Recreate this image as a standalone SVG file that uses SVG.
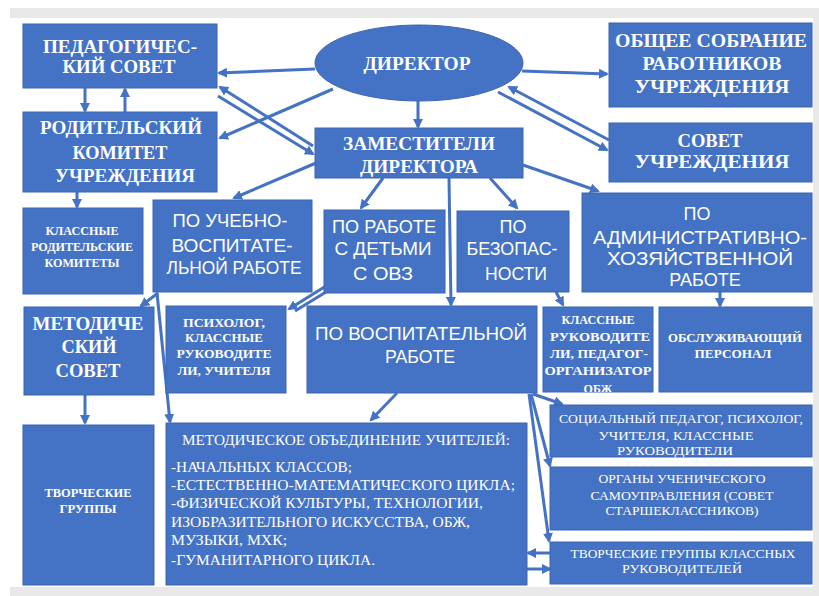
<svg xmlns="http://www.w3.org/2000/svg" width="819" height="596" viewBox="0 0 819 596">
<style>
.b{fill:#4472c4;stroke:#3a64b2;stroke-width:1}
.hs{font-family:"Liberation Serif","DejaVu Serif",serif;font-weight:bold;font-size:18px;fill:#fff;text-anchor:middle}
.ss{font-family:"Liberation Sans","DejaVu Sans",sans-serif;font-size:18px;fill:#fff;text-anchor:middle}
.sm{font-family:"Liberation Serif","DejaVu Serif",serif;font-weight:bold;font-size:12px;fill:#fff;text-anchor:middle}
.rg{font-family:"Liberation Serif","DejaVu Serif",serif;font-size:13px;fill:#fff;text-anchor:middle}
.mo{font-family:"Liberation Serif","DejaVu Serif",serif;font-size:14px;fill:#fff}
.c line{stroke:#4472c4;stroke-width:3;fill:none}
</style>
<defs>
<marker id="ah" viewBox="0 0 10 10" refX="8" refY="5" markerWidth="10" markerHeight="10" markerUnits="userSpaceOnUse" orient="auto">
<path d="M0,0 L10,5 L0,10 z" fill="#4472c4"/>
</marker>
<clipPath id="clipobzh"><rect x="543" y="307" width="110" height="85"/></clipPath>
</defs>
<rect x="0" y="0" width="819" height="596" fill="#ffffff"/>
<rect x="10" y="8" width="809" height="588" fill="#e9e9e9"/>
<rect x="10" y="18" width="803" height="569" fill="#ffffff"/>

<g class="c">
<line x1="315" y1="69" x2="219" y2="73" marker-end="url(#ah)"/>
<line x1="333" y1="89" x2="220" y2="138" marker-end="url(#ah)"/>
<line x1="313" y1="146" x2="220" y2="87" marker-end="url(#ah)"/>
<line x1="218" y1="96" x2="313" y2="154" marker-end="url(#ah)"/>
<line x1="85" y1="88" x2="85" y2="111" marker-end="url(#ah)"/>
<line x1="125" y1="112" x2="125" y2="89" marker-end="url(#ah)"/>
<line x1="418" y1="101" x2="418" y2="127" marker-end="url(#ah)"/>
<line x1="522" y1="71" x2="607" y2="74" marker-end="url(#ah)"/>
<line x1="609" y1="140" x2="509" y2="87" marker-end="url(#ah)"/>
<line x1="498" y1="92" x2="607" y2="150" marker-end="url(#ah)"/>
<line x1="316" y1="163" x2="234" y2="198" marker-end="url(#ah)"/>
<line x1="383" y1="178" x2="361" y2="208" marker-end="url(#ah)"/>
<line x1="449" y1="178" x2="451" y2="305" marker-end="url(#ah)"/>
<line x1="490" y1="178" x2="517" y2="208" marker-end="url(#ah)"/>
<line x1="523" y1="165" x2="598" y2="191" marker-end="url(#ah)"/>
<line x1="77" y1="192" x2="77" y2="207" marker-end="url(#ah)"/>
<line x1="556" y1="292" x2="563" y2="305" marker-end="url(#ah)"/>
<line x1="720" y1="292" x2="720" y2="306" marker-end="url(#ah)"/>
<line x1="326" y1="286" x2="289" y2="309" marker-end="url(#ah)"/>
<line x1="326" y1="292" x2="295" y2="311"/>
<line x1="158" y1="293" x2="141" y2="306" marker-end="url(#ah)"/>
<line x1="157" y1="293" x2="170" y2="422" marker-end="url(#ah)"/>
<line x1="85" y1="395" x2="85" y2="423" marker-end="url(#ah)"/>
<line x1="397" y1="393" x2="371" y2="420" marker-end="url(#ah)"/>
<line x1="533" y1="394" x2="562" y2="404" marker-end="url(#ah)"/>
<line x1="531" y1="394" x2="550" y2="466" marker-end="url(#ah)"/>
<line x1="529" y1="394" x2="549" y2="541" marker-end="url(#ah)"/>
<line x1="550" y1="553" x2="528" y2="553" marker-end="url(#ah)"/>
<line x1="527" y1="569" x2="550" y2="569" marker-end="url(#ah)"/>
</g>

<g id="ped-sovet">
<rect class="b" x="23" y="24" width="194" height="64"/>
<text class="hs" x="120" y="53" textLength="154" lengthAdjust="spacingAndGlyphs">ПЕДАГОГИЧЕС-</text>
<text class="hs" x="119" y="73" textLength="113" lengthAdjust="spacingAndGlyphs">КИЙ СОВЕТ</text>
</g>
<g id="rod-komitet">
<rect class="b" x="23" y="112" width="194" height="80"/>
<text class="hs" x="121" y="134" textLength="162" lengthAdjust="spacingAndGlyphs">РОДИТЕЛЬСКИЙ</text>
<text class="hs" x="120" y="159" textLength="95" lengthAdjust="spacingAndGlyphs">КОМИТЕТ</text>
<text class="hs" x="125" y="182" textLength="140" lengthAdjust="spacingAndGlyphs">УЧРЕЖДЕНИЯ</text>
</g>
<g id="direktor">
<ellipse cx="419" cy="63" rx="104" ry="38" fill="#4472c4" stroke="#3a64b2" stroke-width="1"/>
<text class="hs" x="417" y="70" textLength="107" lengthAdjust="spacingAndGlyphs">ДИРЕКТОР</text>
</g>
<g id="zamestiteli">
<rect class="b" x="315" y="128" width="208" height="50"/>
<text class="hs" x="419" y="150" textLength="152" lengthAdjust="spacingAndGlyphs">ЗАМЕСТИТЕЛИ</text>
<text class="hs" x="419" y="173" textLength="118" lengthAdjust="spacingAndGlyphs">ДИРЕКТОРА</text>
</g>
<g id="obshee-sobranie">
<rect class="b" x="609" y="23" width="203" height="84"/>
<text class="hs" x="711" y="47" textLength="192" lengthAdjust="spacingAndGlyphs">ОБЩЕЕ СОБРАНИЕ</text>
<text class="hs" x="712" y="70" textLength="139" lengthAdjust="spacingAndGlyphs">РАБОТНИКОВ</text>
<text class="hs" x="712" y="93" textLength="155" lengthAdjust="spacingAndGlyphs">УЧРЕЖДЕНИЯ</text>
</g>
<g id="sovet-uchr">
<rect class="b" x="609" y="123" width="203" height="59"/>
<text class="hs" x="710" y="147" textLength="65" lengthAdjust="spacingAndGlyphs">СОВЕТ</text>
<text class="hs" x="712" y="168" textLength="155" lengthAdjust="spacingAndGlyphs">УЧРЕЖДЕНИЯ</text>
</g>
<g id="klass-rod-kom">
<rect class="b" x="23" y="208" width="120" height="86"/>
<text class="sm" x="82" y="235" textLength="73" lengthAdjust="spacingAndGlyphs">КЛАССНЫЕ</text>
<text class="sm" x="82" y="251" textLength="102" lengthAdjust="spacingAndGlyphs">РОДИТЕЛЬСКИЕ</text>
<text class="sm" x="82" y="267" textLength="75" lengthAdjust="spacingAndGlyphs">КОМИТЕТЫ</text>
</g>
<g id="uchebno-vosp">
<rect class="b" x="153" y="200" width="159" height="92"/>
<text class="ss" x="230" y="227" textLength="115" lengthAdjust="spacingAndGlyphs">ПО УЧЕБНО-</text>
<text class="ss" x="232" y="252" textLength="121" lengthAdjust="spacingAndGlyphs">ВОСПИТАТЕ-</text>
<text class="ss" x="234" y="274" textLength="135" lengthAdjust="spacingAndGlyphs">ЛЬНОЙ РАБОТЕ</text>
</g>
<g id="ovz">
<rect class="b" x="324" y="210" width="121" height="83"/>
<text class="ss" x="384" y="233" textLength="104" lengthAdjust="spacingAndGlyphs">ПО РАБОТЕ</text>
<text class="ss" x="383" y="255" textLength="97" lengthAdjust="spacingAndGlyphs">С ДЕТЬМИ</text>
<text class="ss" x="383" y="280" textLength="60" lengthAdjust="spacingAndGlyphs">С  ОВЗ</text>
</g>
<g id="bezopasnost">
<rect class="b" x="457" y="211" width="112" height="81"/>
<text class="ss" x="513" y="233">ПО</text>
<text class="ss" x="512" y="255" textLength="91" lengthAdjust="spacingAndGlyphs">БЕЗОПАС-</text>
<text class="ss" x="516" y="280" textLength="62" lengthAdjust="spacingAndGlyphs">НОСТИ</text>
</g>
<g id="admin">
<rect class="b" x="582" y="193" width="230" height="99"/>
<text class="ss" x="697" y="220">ПО</text>
<text class="ss" x="700" y="244" textLength="214" lengthAdjust="spacingAndGlyphs">АДМИНИСТРАТИВНО-</text>
<text class="ss" x="700" y="265" textLength="186" lengthAdjust="spacingAndGlyphs">ХОЗЯЙСТВЕННОЙ</text>
<text class="ss" x="705" y="286">РАБОТЕ</text>
</g>
<g id="metod-sovet">
<rect class="b" x="24" y="307" width="130" height="88"/>
<text class="hs" x="88" y="330" textLength="111" lengthAdjust="spacingAndGlyphs">МЕТОДИЧЕ</text>
<text class="hs" x="89" y="353" textLength="55" lengthAdjust="spacingAndGlyphs">СКИЙ</text>
<text class="hs" x="88" y="377" textLength="65" lengthAdjust="spacingAndGlyphs">СОВЕТ</text>
</g>
<g id="psiholog">
<rect class="b" x="166" y="306" width="120" height="87"/>
<text class="sm" x="224" y="327" textLength="82" lengthAdjust="spacingAndGlyphs">ПСИХОЛОГ,</text>
<text class="sm" x="224" y="342" textLength="78" lengthAdjust="spacingAndGlyphs">КЛАССНЫЕ</text>
<text class="sm" x="224" y="358" textLength="95" lengthAdjust="spacingAndGlyphs">РУКОВОДИТЕ</text>
<text class="sm" x="224" y="375" textLength="93" lengthAdjust="spacingAndGlyphs">ЛИ, УЧИТЕЛЯ</text>
</g>
<g id="vospitatelnoi">
<rect class="b" x="307" y="306" width="230" height="87"/>
<text class="ss" x="421" y="340" textLength="212" lengthAdjust="spacingAndGlyphs">ПО ВОСПИТАТЕЛЬНОЙ</text>
<text class="ss" x="420" y="363" textLength="70" lengthAdjust="spacingAndGlyphs">РАБОТЕ</text>
</g>
<g id="klass-ruk-obzh">
<rect class="b" x="543" y="307" width="110" height="85"/>
<g clip-path="url(#clipobzh)">
<text class="sm" x="598" y="324" textLength="73" lengthAdjust="spacingAndGlyphs">КЛАССНЫЕ</text>
<text class="sm" x="600" y="341" textLength="100" lengthAdjust="spacingAndGlyphs">РУКОВОДИТЕ</text>
<text class="sm" x="599" y="358" textLength="98" lengthAdjust="spacingAndGlyphs">ЛИ, ПЕДАГОГ-</text>
<text class="sm" x="598" y="375" textLength="107" lengthAdjust="spacingAndGlyphs">ОРГАНИЗАТОР</text>
<text class="sm" x="598" y="393">ОБЖ</text>
</g>
</g>
<g id="obsluzh">
<rect class="b" x="659" y="307" width="153" height="85"/>
<text class="sm" x="735" y="342" textLength="134" lengthAdjust="spacingAndGlyphs">ОБСЛУЖИВАЮЩИЙ</text>
<text class="sm" x="733" y="358" textLength="77" lengthAdjust="spacingAndGlyphs">ПЕРСОНАЛ</text>
</g>
<g id="tvorch-gruppy">
<rect class="b" x="23" y="425" width="131" height="160"/>
<text class="sm" x="88" y="497" textLength="87" lengthAdjust="spacingAndGlyphs">ТВОРЧЕСКИЕ</text>
<text class="sm" x="88" y="513" textLength="57" lengthAdjust="spacingAndGlyphs">ГРУППЫ</text>
</g>
<g id="metod-obied">
<rect class="b" x="166" y="423" width="361" height="162"/>
<text class="mo" x="182" y="445" textLength="328" lengthAdjust="spacingAndGlyphs">МЕТОДИЧЕСКОЕ ОБЪЕДИНЕНИЕ УЧИТЕЛЕЙ:</text>
<text class="mo" x="171" y="472" textLength="181" lengthAdjust="spacingAndGlyphs">-НАЧАЛЬНЫХ КЛАССОВ;</text>
<text class="mo" x="171" y="490" textLength="344" lengthAdjust="spacingAndGlyphs">-ЕСТЕСТВЕННО-МАТЕМАТИЧЕСКОГО ЦИКЛА;</text>
<text class="mo" x="171" y="508" textLength="312" lengthAdjust="spacingAndGlyphs">-ФИЗИЧЕСКОЙ КУЛЬТУРЫ, ТЕХНОЛОГИИ,</text>
<text class="mo" x="171" y="527" textLength="299" lengthAdjust="spacingAndGlyphs">ИЗОБРАЗИТЕЛЬНОГО ИСКУССТВА, ОБЖ,</text>
<text class="mo" x="171" y="545" textLength="116" lengthAdjust="spacingAndGlyphs">МУЗЫКИ, МХК;</text>
<text class="mo" x="171" y="565" textLength="204" lengthAdjust="spacingAndGlyphs">-ГУМАНИТАРНОГО ЦИКЛА.</text>
</g>
<g id="socialnyi">
<rect class="b" x="550" y="405" width="262" height="52"/>
<text class="rg" x="681" y="423" textLength="244" lengthAdjust="spacingAndGlyphs">СОЦИАЛЬНЫЙ ПЕДАГОГ, ПСИХОЛОГ,</text>
<text class="rg" x="676" y="440" textLength="155" lengthAdjust="spacingAndGlyphs">УЧИТЕЛЯ, КЛАССНЫЕ</text>
<text class="rg" x="675" y="455" textLength="116" lengthAdjust="spacingAndGlyphs">РУКОВОДИТЕЛИ</text>
</g>
<g id="organy">
<rect class="b" x="550" y="467" width="262" height="63"/>
<text class="rg" x="682" y="483" textLength="167" lengthAdjust="spacingAndGlyphs">ОРГАНЫ УЧЕНИЧЕСКОГО</text>
<text class="rg" x="682" y="500" textLength="183" lengthAdjust="spacingAndGlyphs">САМОУПРАВЛЕНИЯ (СОВЕТ</text>
<text class="rg" x="682" y="515" textLength="153" lengthAdjust="spacingAndGlyphs">СТАРШЕКЛАССНИКОВ)</text>
</g>
<g id="tvorch-kl-ruk">
<rect class="b" x="550" y="542" width="262" height="42"/>
<text class="rg" x="683" y="558" textLength="225" lengthAdjust="spacingAndGlyphs">ТВОРЧЕСКИЕ ГРУППЫ КЛАССНЫХ</text>
<text class="rg" x="682" y="573" textLength="120" lengthAdjust="spacingAndGlyphs">РУКОВОДИТЕЛЕЙ</text>
</g>
</svg>
